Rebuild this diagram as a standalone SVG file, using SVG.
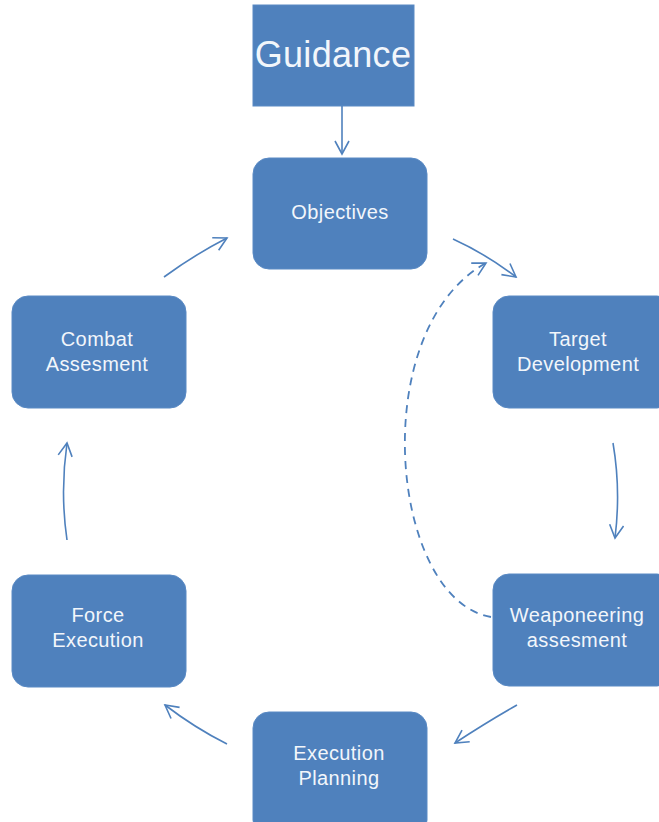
<svg xmlns="http://www.w3.org/2000/svg" width="659" height="822" viewBox="0 0 659 822">
  <style>
    .box { fill: #4F81BD; stroke: #5A8AC4; stroke-width: 1; }
    .lbl { font-family: "Liberation Sans", Arial, sans-serif; font-size: 20px; letter-spacing: 0.4px; fill: #F2F6FB; text-anchor: middle; }
    .big { font-family: "Liberation Sans", Arial, sans-serif; font-size: 36px; letter-spacing: 0.3px; fill: #F2F6FB; text-anchor: middle; }
    .link { fill: none; stroke: #4F81BD; stroke-width: 1.6; marker-end: url(#open); }
    .dash { stroke-dasharray: 8 6; stroke-width: 1.8; }
  </style>
  <defs>
    <marker id="open" markerUnits="userSpaceOnUse" markerWidth="18" markerHeight="18" refX="14" refY="8" orient="auto">
      <path d="M1,1 L14,8 L1,15" fill="none" stroke="#4F81BD" stroke-width="1.6"/>
    </marker>
  </defs>

  <g id="guidance">
    <rect class="box" x="253" y="5" width="161" height="101"/>
    <text class="big" x="333" y="67">Guidance</text>
  </g>

  <g id="objectives">
    <rect class="box" x="253" y="158" width="174" height="111" rx="16"/>
    <text class="lbl" x="340" y="219">Objectives</text>
  </g>

  <g id="target-development">
    <rect class="box" x="493" y="296" width="180" height="112" rx="16"/>
    <text class="lbl" x="578" y="346">Target</text>
    <text class="lbl" x="578" y="371">Development</text>
  </g>

  <g id="weaponeering-assesment">
    <rect class="box" x="493" y="574" width="180" height="112" rx="16"/>
    <text class="lbl" x="577" y="622">Weaponeering</text>
    <text class="lbl" x="577" y="647">assesment</text>
  </g>

  <g id="execution-planning">
    <rect class="box" x="253" y="712" width="174" height="124" rx="16"/>
    <text class="lbl" x="339" y="760">Execution</text>
    <text class="lbl" x="339" y="785">Planning</text>
  </g>

  <g id="force-execution">
    <rect class="box" x="12" y="575" width="174" height="112" rx="16"/>
    <text class="lbl" x="98" y="622">Force</text>
    <text class="lbl" x="98" y="647">Execution</text>
  </g>

  <g id="combat-assesment">
    <rect class="box" x="12" y="296" width="174" height="112" rx="16"/>
    <text class="lbl" x="97" y="346">Combat</text>
    <text class="lbl" x="97" y="371">Assesment</text>
  </g>

  <g id="connectors">
    <path class="link" d="M342,106 L342,154"/>
    <path class="link" d="M453,239 Q486,254 516,277"/>
    <path class="link" d="M613,443 Q621,490 615,538"/>
    <path class="link" d="M517,705 Q487,722 455,743"/>
    <path class="link" d="M227,744 Q195,728 165,705"/>
    <path class="link" d="M67,540 Q60,492 67,443"/>
    <path class="link" d="M164,277 Q194,255 227,238"/>
    <path class="link dash" d="M491,617 C390,600 365,330 486,263"/>
  </g>
</svg>
